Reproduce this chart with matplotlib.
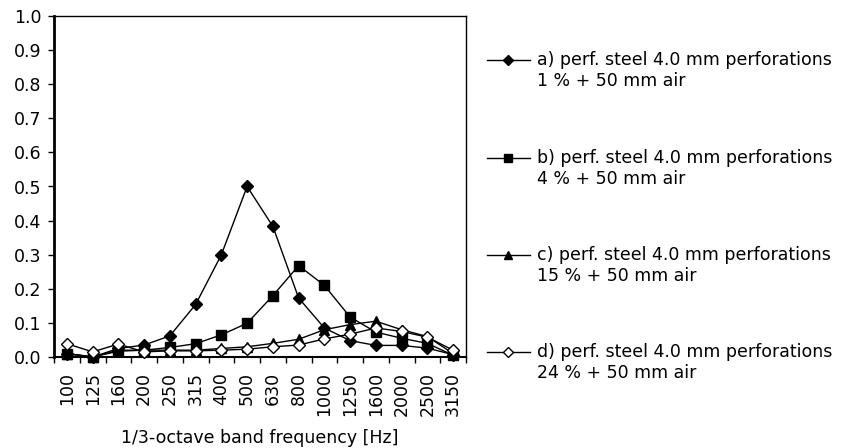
import matplotlib
matplotlib.use("Agg")
import matplotlib.pyplot as plt
from matplotlib.lines import Line2D
import numpy as np

plt.rcParams['font.family'] = ['DejaVu Sans']

categories = ["100", "125", "160", "200", "250", "315", "400", "500", "630",
              "800", "1000", "1250", "1600", "2000", "2500", "3150"]
series_a = [0.010, 0.000, 0.025, 0.035, 0.062, 0.154, 0.300, 0.500, 0.383,
            0.173, 0.085, 0.048, 0.034, 0.034, 0.026, 0.007]
series_b = [0.010, 0.000, 0.017, 0.020, 0.028, 0.039, 0.065, 0.099, 0.180,
            0.268, 0.210, 0.117, 0.073, 0.055, 0.040, 0.005]
series_c = [0.010, 0.000, 0.020, 0.020, 0.020, 0.020, 0.025, 0.030, 0.040,
            0.052, 0.080, 0.095, 0.105, 0.080, 0.060, 0.010]
series_d = [0.039, 0.015, 0.038, 0.015, 0.018, 0.018, 0.020, 0.023, 0.030,
            0.035, 0.053, 0.067, 0.085, 0.075, 0.058, 0.020]
labels = ["a) perf. steel 4.0 mm perforations\n1 % + 50 mm air",
          "b) perf. steel 4.0 mm perforations\n4 % + 50 mm air",
          "c) perf. steel 4.0 mm perforations\n15 % + 50 mm air",
          "d) perf. steel 4.0 mm perforations\n24 % + 50 mm air"]
yticks = [0.0, 0.1, 0.2, 0.3, 0.4, 0.5, 0.6, 0.7, 0.8, 0.9, 1.0]

FS = 12.5

styles = [dict(marker='D', ms=6, mfc='black'),
          dict(marker='s', ms=7, mfc='black'),
          dict(marker='^', ms=7, mfc='black'),
          dict(marker='D', ms=6, mfc='white')]

fig = plt.figure(figsize=(8.61, 4.48), dpi=100)
ax = fig.add_axes([54/861, 1-357/448, (466-54)/861, (357-16)/448])

x = np.arange(len(categories))
for vals, st in zip([series_a, series_b, series_c, series_d], styles):
    ax.plot(x, vals, color='black', lw=1.0, mec='black', mew=1.0,
            clip_on=False, zorder=3, **st)

ax.set_xlim(-0.5, len(categories) - 0.5)
ax.set_ylim(0, 1.0)
ax.set_yticks(yticks)
ax.set_yticklabels([f"{v:.1f}" for v in yticks], fontsize=FS)
ax.set_xticks(np.arange(len(categories) + 1) - 0.5)
ax.set_xticklabels([])
ax.set_xticks(x, minor=True)
ax.set_xticklabels(categories, minor=True, rotation=90, fontsize=FS)
ax.tick_params(axis='x', which='minor', length=0, pad=11)
ax.tick_params(axis='x', which='major', length=4, width=1, direction='out')
ax.tick_params(axis='y', length=4, width=1, direction='out', pad=5)

ax.spines['left'].set_linewidth(2.0)
ax.spines['bottom'].set_linewidth(1.5)
ax.spines['top'].set_linewidth(1.0)
ax.spines['right'].set_linewidth(1.0)

ax.set_xlabel("1/3-octave band frequency [Hz]", fontsize=FS, labelpad=9)

# legend drawn manually
leg_y = [60, 158, 255, 352]
for ly, st, lab in zip(leg_y, styles, labels):
    yf = 1 - ly / 448
    ln = Line2D([487/861, 508/861, 530/861], [yf, yf, yf], transform=fig.transFigure,
                color='black', lw=1.0, mec='black', mew=1.0, markevery=[1],
                marker=st['marker'], ms=st['ms'] - 1, mfc=st['mfc'])
    fig.add_artist(ln)
    fig.text(537/861, yf + 9/448, lab, fontsize=FS, va='top', ha='left',
             linespacing=1.2)

fig.savefig("out.png", dpi=100)
